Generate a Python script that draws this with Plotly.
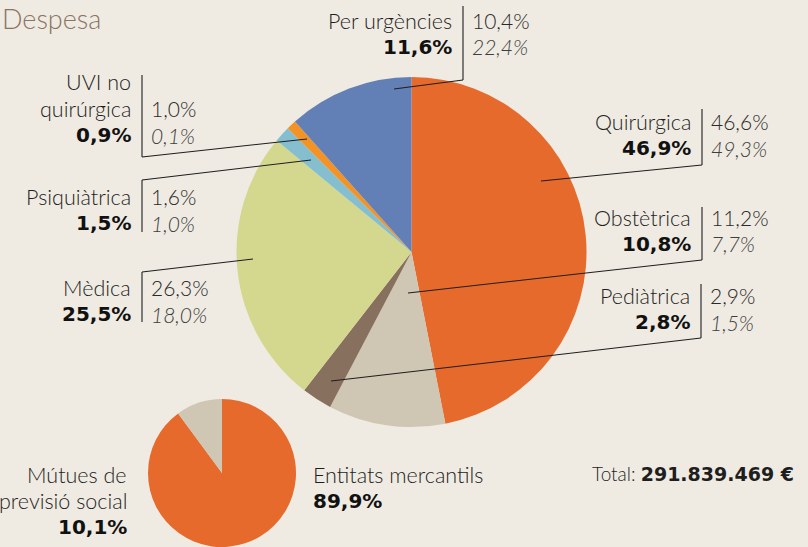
import plotly.graph_objects as go

# ---------------- data ----------------
categories = ["Quirúrgica", "Obstètrica", "Pediàtrica", "Mèdica",
              "Psiquiàtrica", "UVI no quirúrgica", "Per urgències"]
display_names = [["Quirúrgica"], ["Obstètrica"], ["Pediàtrica"], ["Mèdica"],
                 ["Psiquiàtrica"], ["UVI no", "quirúrgica"], ["Per urgències"]]
despesa_share = [46.9, 10.8, 2.8, 25.5, 1.5, 0.9, 11.6]
second_share = [46.6, 11.2, 2.9, 26.3, 1.6, 1.0, 10.4]
third_share = [49.3, 7.7, 1.5, 18.0, 1.0, 0.1, 22.4]

entity_labels = ["Entitats mercantils", "Mútues de previsió social"]
entity_share = [89.9, 10.1]

total_label = "291.839.469 €"
title_text = "Despesa"

# ---------------- style ----------------
W, H = 808, 547
BG = "#efebe2"
slice_colors = ["#e66a2c", "#cfc6b4", "#87705d", "#d4d88f",
                "#85bfcf", "#f39325", "#6280b5"]
entity_colors = ["#e66a2c", "#cfc6b4"]
FONT = "Lato"
BOLD_FONT = "DejaVu Sans"
FS = 21.5
FS_NUM = 21
FS_BOLD = 20
LINE_C = "#1e1e1e"

def px(x):
    return x / W

def py(y):
    return 1 - y / H

def fmt(v):
    return f"{v:.1f}".replace(".", ",") + "%"

# label block layout in pixels: vertical line x, pct line y, vline extent, leader line
label_layout = {
    "Quirúrgica":        dict(vx=702, pct_y=148, v=(109, 165), lead=((702, 165), (541, 181))),
    "Obstètrica":        dict(vx=702, pct_y=244, v=(207, 260), lead=((702, 260), (408, 293))),
    "Pediàtrica":        dict(vx=701, pct_y=322, v=(284, 338), lead=((701, 338), (331, 381))),
    "Mèdica":            dict(vx=142, pct_y=314, v=(272, 322), lead=((142, 272), (253, 259))),
    "Psiquiàtrica":      dict(vx=142, pct_y=223, v=(180, 232), lead=((142, 180), (311, 160))),
    "UVI no quirúrgica": dict(vx=142, pct_y=135, v=(75, 157), lead=((142, 157), (307, 139))),
    "Per urgències":     dict(vx=463, pct_y=47, v=(6, 80), lead=((463, 80), (394, 89))),
}
LS = 26.5

fig = go.Figure()

# main pie
fig.add_trace(go.Pie(
    labels=categories, values=despesa_share, sort=False, direction="clockwise",
    rotation=0, textinfo="none", hoverinfo="label+percent",
    marker=dict(colors=slice_colors, line=dict(width=0)),
    domain=dict(x=[px(236.5), px(586.5)], y=[py(427), py(77)]),
    showlegend=False,
))

# small pie
fig.add_trace(go.Pie(
    labels=entity_labels, values=entity_share, sort=False, direction="clockwise",
    rotation=0, textinfo="none", hoverinfo="label+percent",
    marker=dict(colors=entity_colors, line=dict(width=0)),
    domain=dict(x=[px(147), px(297)], y=[0, py(399)]),
    showlegend=False,
))

annotations = []
shapes = []

def ann(text, x, y, xanchor, size=FS, color="#1e1e1e", family=FONT, weight=300):
    annotations.append(dict(
        text=text, x=px(x), y=py(y), xref="paper", yref="paper",
        xanchor=xanchor, yanchor="middle", showarrow=False,
        font=dict(family=family, size=size, color=color, weight=weight),
    ))

def bold(text, x, y, xanchor, size=FS_BOLD):
    ann(text, x, y, xanchor, size=size, color="#111111", family=BOLD_FONT, weight=700)

for i, cat in enumerate(categories):
    L = label_layout[cat]
    vx, pct_y = L["vx"], L["pct_y"]
    bold(fmt(despesa_share[i]), vx - 9, pct_y, "right")
    names = display_names[i]
    for k, line in enumerate(reversed(names)):
        ann(line, vx - 9, pct_y - LS * (k + 1), "right", color="#1e1e1e")
    ann(fmt(second_share[i]), vx + 7, pct_y - LS, "left", size=FS_NUM, color="#2a2a2a")
    ann(f"<i>{fmt(third_share[i])}</i>", vx + 7, pct_y, "left", size=FS_NUM, color="#3e3e3e")
    (x0, y0), (x1, y1) = L["lead"]
    v0, v1 = L["v"]
    shapes.append(dict(type="line", xref="paper", yref="paper",
                       x0=px(vx), y0=py(v0), x1=px(vx), y1=py(v1),
                       line=dict(color=LINE_C, width=1.1)))
    shapes.append(dict(type="line", xref="paper", yref="paper",
                       x0=px(x0), y0=py(y0), x1=px(x1), y1=py(y1),
                       line=dict(color=LINE_C, width=1.1)))

# small pie labels
ann("Mútues de", 129, 475, "right")
ann("previsió social", 129, 501, "right")
bold(fmt(entity_share[1]), 129, 527, "right")
ann(entity_labels[0], 311, 475, "left")
bold(fmt(entity_share[0]), 311, 501, "left")

# total
annotations.append(dict(
    text=f"Total: <b><span style='font-family:{BOLD_FONT}'>{total_label}</span></b>",
    x=px(796), y=py(473), xref="paper", yref="paper",
    xanchor="right", yanchor="middle", showarrow=False,
    font=dict(family=FONT, size=19, color="#1e1e1e", weight=300),
))

# title
ann(title_text, 0, 18, "left", size=27, color="#8a7462")

fig.update_layout(
    width=W, height=H, margin=dict(l=0, r=0, t=0, b=0),
    paper_bgcolor=BG, plot_bgcolor=BG,
    annotations=annotations, shapes=shapes,
)

fig.write_html(
    "out.html",
    config={"displayModeBar": False},
    post_script=(
        "document.body.style.margin='0';"
        "document.body.style.overflow='hidden';"
        f"document.body.style.background='{BG}';"
    ),
)
